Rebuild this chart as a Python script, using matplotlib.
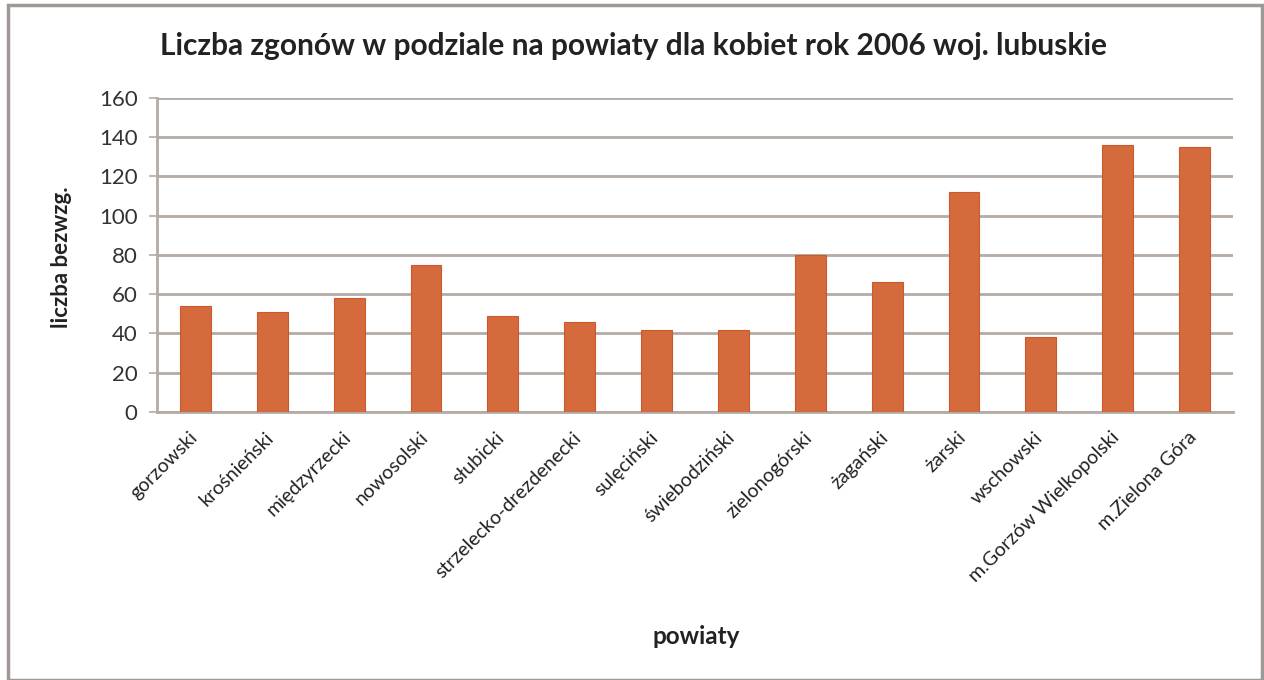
import matplotlib.pyplot as plt
import matplotlib.transforms as mtransforms
from matplotlib.patches import Rectangle
import numpy as np

plt.rcParams['font.family'] = ['Lato', 'DejaVu Sans']

powiaty = ['gorzowski', 'krośnieński', 'międzyrzecki', 'nowosolski', 'słubicki',
           'strzelecko-drezdenecki', 'sulęciński', 'świebodziński', 'zielonogórski',
           'żagański', 'żarski', 'wschowski', 'm.Gorzów Wielkopolski', 'm.Zielona Góra']
zgony = [54, 51, 58, 75, 49, 46, 42, 42, 80, 66, 112, 38, 136, 135]
yticks = [0, 20, 40, 60, 80, 100, 120, 140, 160]

bar_color = '#D56A3D'
grid_color = '#B3ABA5'
text_color = '#222222'

fig = plt.figure(figsize=(12.64, 6.8), dpi=100)
ax = fig.add_axes([157 / 1264, 1 - 412 / 680, (1233 - 157) / 1264, (412 - 98) / 680])

x = np.arange(len(powiaty))
ax.bar(x, zgony, width=0.4, color=bar_color, edgecolor='#C95A2E', linewidth=0.8, zorder=3)

ax.set_xlim(-0.5, len(powiaty) - 0.5)
ax.set_ylim(0, 160)
ax.set_yticks(yticks)
ax.set_yticklabels([str(v) for v in yticks], fontsize=16, color='#333333')
ax.yaxis.grid(True, color=grid_color, linewidth=2, zorder=0)
ax.tick_params(axis='y', length=6, width=1.2, color=grid_color, pad=8)
ax.tick_params(axis='x', length=0, pad=12)

ax.set_xticks(x)
ax.set_xticklabels(powiaty, rotation=45, ha='right', rotation_mode='anchor',
                   fontsize=14, color=text_color)
# nudge labels slightly left like the original
shift = mtransforms.ScaledTranslation(-7 / 100, 0, fig.dpi_scale_trans)
for lbl in ax.get_xticklabels():
    lbl.set_transform(lbl.get_transform() + shift)

for side in ['top', 'right']:
    ax.spines[side].set_visible(False)
ax.spines['left'].set_color(grid_color)
ax.spines['left'].set_linewidth(2)
ax.spines['bottom'].set_color(grid_color)
ax.spines['bottom'].set_linewidth(2)

fig.text(633 / 1264, 1 - 46 / 680, 'Liczba zgonów w podziale na powiaty dla kobiet rok 2006 woj. lubuskie',
         ha='center', va='center', fontsize=21.5, fontweight='bold', color=text_color)
fig.text(62 / 1264, 1 - 257 / 680, 'liczba bezwzg.', rotation=90, ha='center', va='center',
         fontsize=16, fontweight='bold', color=text_color)
fig.text(696 / 1264, 1 - 636 / 680, 'powiaty', ha='center', va='center',
         fontsize=17.5, fontweight='bold', color=text_color)

# frame around the whole chart
fig.patches.append(Rectangle((8 / 1264, 0.0), (1262 - 8) / 1264, 1 - 5 / 680,
                             transform=fig.transFigure, fill=False,
                             edgecolor='#A09894', linewidth=2.5))

fig.savefig('out.png', dpi=100)
